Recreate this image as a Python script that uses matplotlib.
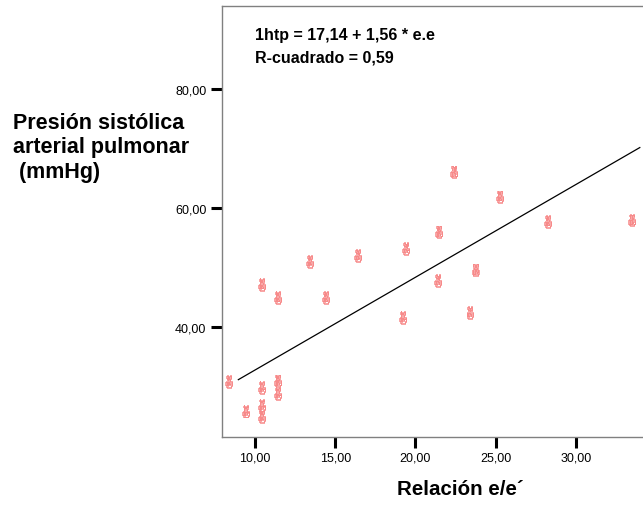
import numpy as np
import matplotlib.pyplot as plt
from matplotlib import font_manager
from matplotlib.font_manager import FontProperties
from matplotlib.ft2font import FT2Font
from matplotlib.textpath import TextPath
from matplotlib.path import Path

plt.rcParams['font.family'] = ['Liberation Sans', 'DejaVu Sans']

# Relación e/e´ vs presión sistólica arterial pulmonar
ee_ratio = [22.4, 25.25, 28.25, 33.5, 21.45, 19.4, 16.4, 13.4, 10.4, 11.4, 14.4,
            23.75, 21.4, 23.4, 19.2, 8.35, 10.4, 11.4, 11.4, 9.4, 10.4, 10.4]
psap = [66.1, 61.9, 57.7, 58.0, 56.0, 53.2, 52.0, 51.0, 47.1, 44.9, 44.9,
        49.6, 47.8, 42.4, 41.6, 30.8, 29.8, 30.9, 28.8, 25.8, 26.8, 24.9]

# fitted line: 1htp = 17,14 + 1,56 * e.e
intercept = 17.14
slope = 1.56
r_squared = 0.59
fit_x = np.array([8.95, 34.0])

x_ticks = [10, 15, 20, 25, 30]
y_ticks = [40, 60, 80]


def glyph_marker(char, squash=0.55):
    # find an installed font that actually has the glyph and turn it into a path
    for path in font_manager.findSystemFonts():
        try:
            if FT2Font(path).get_char_index(ord(char)):
                tp = TextPath((0, 0), char, size=10, prop=FontProperties(fname=path))
                verts = tp.vertices.copy()
                verts -= (verts.min(axis=0) + verts.max(axis=0)) / 2
                verts[:, 0] *= squash
                return Path(verts, tp.codes)
        except Exception:
            continue
    return 'o'


def comma(v):
    return f"{v:.2f}".replace('.', ',')


fig = plt.figure(figsize=(6.43, 5.06), dpi=100)
ax = fig.add_axes([0.345, 0.135, 0.66, 0.851])

ax.scatter(ee_ratio, psap, marker=glyph_marker('\u270C'), s=80,
           facecolor='none', edgecolor='#f78a8a', linewidths=0.55, zorder=3)
ax.plot(fit_x, intercept + slope * fit_x, color='black', lw=0.9, zorder=2)

ax.set_xlim(7.92, 34.4)
ax.set_ylim(21.5, 94.0)

ax.set_xticks(x_ticks)
ax.set_yticks(y_ticks)
ax.set_xticklabels([comma(v) for v in x_ticks], fontsize=9)
ax.set_yticklabels([comma(v) for v in y_ticks], fontsize=9)
ax.tick_params(length=8, width=2.2, color='black', pad=3)

for side in ['left', 'bottom', 'top']:
    ax.spines[side].set_color('#808080')
    ax.spines[side].set_linewidth(1.0)
ax.spines['right'].set_visible(False)

ax.text(0.077, 1 - 28 / 431, f"1htp = {comma(intercept)} + {comma(slope)} * e.e",
        transform=ax.transAxes, fontsize=11.5, fontweight='bold', va='center')
ax.text(0.077, 1 - 51 / 431, f"R-cuadrado = {comma(r_squared)}",
        transform=ax.transAxes, fontsize=11.5, fontweight='bold', va='center')

fig.text(13 / 643, 1 - 148 / 506, "Presión sistólica\narterial pulmonar\n (mmHg)",
         fontsize=15.5, fontweight='bold', va='center', ha='left', linespacing=1.22)
fig.text(460 / 643, 1 - 490 / 506, "Relación e/e´", fontsize=14.8,
         fontweight='bold', ha='center', va='center')

fig.savefig('out.png', dpi=100)
